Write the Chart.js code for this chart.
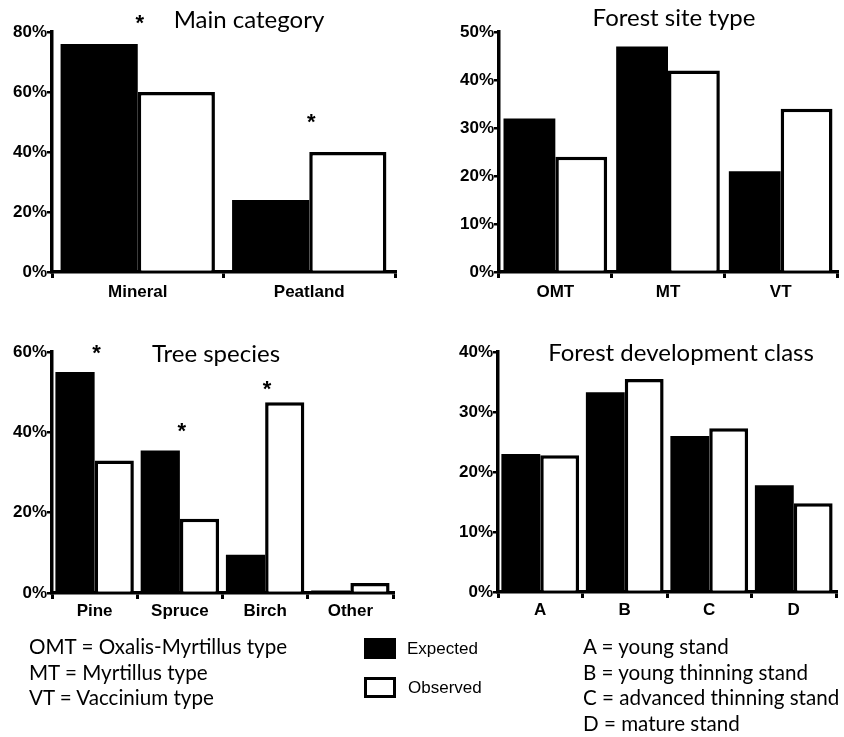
<!DOCTYPE html>
<html>
<head>
<meta charset="utf-8">
<script src="https://cdn.jsdelivr.net/npm/chart.js@4.4.1/dist/chart.umd.min.js"></script>
<style>
  html, body { margin: 0; padding: 0; background: #fff; }
  #page { position: relative; width: 844px; height: 737px; overflow: hidden; }
  .panel { position: absolute; }
  .note { position: absolute; font-family: Lato, "Open Sans", sans-serif; font-size: 20.6px; color: #000; line-height: 25.5px; white-space: nowrap; }
  .key { position: absolute; font-family: "Liberation Sans", Arial, sans-serif; font-size: 17px; color: #000; white-space: nowrap; }
  .swatch { position: absolute; width: 32px; height: 21px; box-sizing: border-box; border: 3px solid #000; }
</style>
</head>
<body>
<div id="page">
  <div class="panel" style="left:0;top:0;width:420px;height:310px"><canvas id="cMain"></canvas></div>
  <div class="panel" style="left:420px;top:0;width:424px;height:310px"><canvas id="cSite"></canvas></div>
  <div class="panel" style="left:0;top:310px;width:420px;height:330px"><canvas id="cSpecies"></canvas></div>
  <div class="panel" style="left:420px;top:310px;width:424px;height:330px"><canvas id="cDev"></canvas></div>

  <div class="note" style="left:29px;top:634px">OMT = Oxalis-Myrtillus type<br>MT = Myrtillus type<br>VT = Vaccinium type</div>

  <div class="swatch" style="left:364px;top:638px;background:#000"></div>
  <div class="key" style="left:407px;top:639px">Expected</div>
  <div class="swatch" style="left:364px;top:677px;background:#fff"></div>
  <div class="key" style="left:408px;top:678px">Observed</div>

  <div class="note" style="left:583px;top:634px">A = young stand<br>B = young thinning stand<br>C = advanced thinning stand<br>D = mature stand</div>
</div>

<script>
// Main category
const mainCats = ['Mineral', 'Peatland'];
const mainExpected = [76, 24];
const mainObserved = [60, 40];
const mainStars = [84, 51];          // level (%) of the significance asterisk
const mainTicks = [0, 20, 40, 60, 80];

// Forest site type
const siteCats = ['OMT', 'MT', 'VT'];
const siteExpected = [32, 47, 21];
const siteObserved = [24, 42, 34];
const siteStars = [null, null, null];
const siteTicks = [0, 10, 20, 30, 40, 50];

// Tree species
const speciesCats = ['Pine', 'Spruce', 'Birch', 'Other'];
const speciesExpected = [55, 35.5, 9.5, 0.6];
const speciesObserved = [33, 18.5, 47.5, 2.5];
const speciesStars = [60.5, 41, 51.5, null];
const speciesTicks = [0, 20, 40, 60];

// Forest development class
const devCats = ['A', 'B', 'C', 'D'];
const devExpected = [23, 33.3, 26, 17.8];
const devObserved = [22.8, 35.5, 27.3, 14.8];
const devStars = [null, null, null, null];
const devTicks = [0, 10, 20, 30, 40];

const BOLD = '"Liberation Sans", Arial, Helvetica, sans-serif';

// Draws the panel heading and the asterisks over the bar pairs
const decorations = {
  id: 'decorations',
  afterDatasetsDraw(chart, args, opts) {
    const ctx = chart.ctx;
    ctx.save();
    ctx.fillStyle = '#000';
    ctx.font = '24px Lato, "Open Sans", sans-serif';
    ctx.textAlign = 'center';
    ctx.textBaseline = 'alphabetic';
    ctx.fillText(opts.title, opts.titleX, opts.titleY);

    const x = chart.scales.x, y = chart.scales.y;
    ctx.font = 'bold 22px ' + BOLD;
    ctx.textBaseline = 'middle';
    (opts.stars || []).forEach((lvl, i) => {
      if (lvl == null) return;
      ctx.fillText('*', x.getPixelForValue(i) + 2, y.getPixelForValue(lvl) + 4);
    });
    ctx.restore();
  }
};

function makeChart(id, cats, expected, observed, stars, ticks, cfg) {
  const yMax = ticks[ticks.length - 1];
  const step = ticks[1] - ticks[0];
  return new Chart(document.getElementById(id), {
    type: 'bar',
    data: {
      labels: cats,
      datasets: [
        { label: 'Expected', data: expected, backgroundColor: '#000', borderColor: '#000', borderWidth: 0 },
        { label: 'Observed', data: observed, backgroundColor: '#fff', borderColor: '#000', borderWidth: 3.5, borderSkipped: 'bottom' }
      ]
    },
    options: {
      responsive: true,
      maintainAspectRatio: false,
      animation: false,
      datasets: { bar: { categoryPercentage: cfg.catPct, barPercentage: 1.0 } },
      layout: { padding: cfg.padding },
      plugins: {
        legend: { display: false },
        tooltip: { enabled: false },
        title: { display: false },
        decorations: { title: cfg.title, titleX: cfg.titleX, titleY: cfg.titleY, stars: stars }
      },
      scales: {
        x: {
          grid: { offset: true, drawOnChartArea: false, drawTicks: true, tickLength: 6, lineWidth: 3, color: '#000' },
          border: { display: true, width: 3.5, color: '#000' },
          ticks: { color: '#000', font: { family: BOLD, weight: 'bold', size: 17 }, padding: cfg.xPad, maxRotation: 0 },
          afterFit(s) { s.height = 30; }
        },
        y: {
          min: 0, max: yMax,
          grid: { drawOnChartArea: false, drawTicks: true, tickLength: 5, lineWidth: 2.5, color: '#000' },
          border: { display: true, width: 3.5, color: '#000' },
          ticks: {
            stepSize: step, color: '#000', padding: 0,
            font: { family: BOLD, weight: 'bold', size: 17 },
            callback: v => v + '%'
          },
          afterFit(s) { s.width = cfg.yWidth; }
        }
      }
    },
    plugins: [decorations]
  });
}

makeChart('cMain', mainCats, mainExpected, mainObserved, mainStars, mainTicks, {
  catPct: 0.9, yWidth: 52, xPad: 4, padding: { left: 0, right: 25, top: 32, bottom: 8 },
  title: 'Main category', titleX: 249, titleY: 28
});
makeChart('cSite', siteCats, siteExpected, siteObserved, siteStars, siteTicks, {
  catPct: 0.92, yWidth: 79, xPad: 4, padding: { left: 0, right: 7, top: 32, bottom: 8 },
  title: 'Forest site type', titleX: 254, titleY: 26
});
makeChart('cSpecies', speciesCats, speciesExpected, speciesObserved, speciesStars, speciesTicks, {
  catPct: 0.92, yWidth: 52, xPad: 2, padding: { left: 0, right: 27, top: 42, bottom: 17 },
  title: 'Tree species', titleX: 216, titleY: 52
});
makeChart('cDev', devCats, devExpected, devObserved, devStars, devTicks, {
  catPct: 0.92, yWidth: 78, xPad: 2, padding: { left: 0, right: 8, top: 42, bottom: 18 },
  title: 'Forest development class', titleX: 261, titleY: 51
});
</script>
</body>
</html>
